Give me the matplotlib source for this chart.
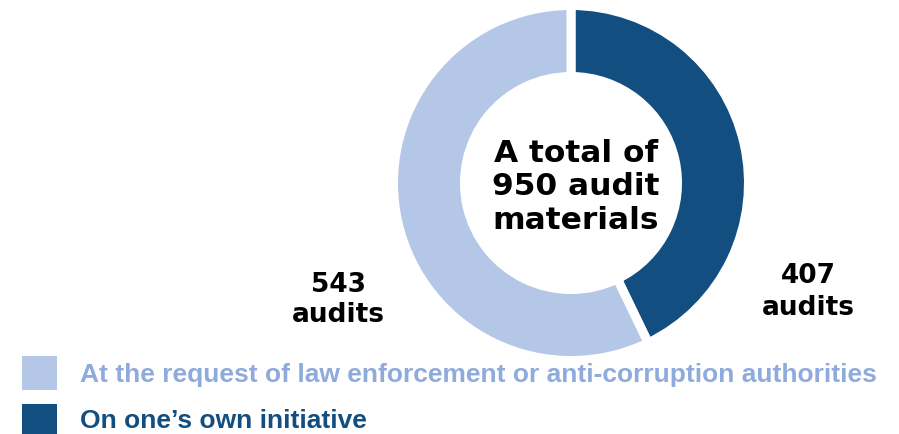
import matplotlib.pyplot as plt

# audit counts (dark slice first, drawn clockwise from the top)
categories = ['On one\u2019s own initiative',
              'At the request of law enforcement or anti-corruption authorities']
counts = [407, 543]
slice_labels = [['407', 'audits'], ['543', 'audits']]
centre_lines = ['A total of', '950 audit', 'materials']

dark = '#134e80'
light = '#b4c7e7'
light_text = '#8faadc'

W, H = 899, 435


def yy(y):  # image row -> data y
    return H - y


fig = plt.figure(figsize=(8.99, 4.35), dpi=100)
ax = fig.add_axes([0, 0, 1, 1])

ax.pie(counts, colors=[dark, light], startangle=90, counterclock=False,
       center=(571, yy(184)), radius=177.5,
       wedgeprops=dict(width=71, edgecolor='white', linewidth=6.5))
ax.set_xlim(0, W)
ax.set_ylim(0, H)
ax.set_aspect('equal')
ax.axis('off')

# centre text, one line at a time
for line, base in zip(centre_lines, [162, 195, 229]):
    ax.text(576, yy(base), line, ha='center', va='baseline', fontsize=22.5,
            fontweight='bold', family='DejaVu Sans')

# slice labels
label_pos = [(808, [283, 315]), (338, [292, 322])]
for lines, (x, bases) in zip(slice_labels, label_pos):
    for line, base in zip(lines, bases):
        ax.text(x, yy(base), line, ha='center', va='baseline', fontsize=19,
                fontweight='bold', family='DejaVu Sans')

# legend by hand
legend_rows = [(categories[1], light, light_text, 357, 382),
               (categories[0], dark, dark, 405, 428)]
for label, fc, tc, top, base in legend_rows:
    ax.add_patch(plt.Rectangle((22, yy(top + 34)), 35, 34, color=fc, lw=0))
    ax.text(80, yy(base), label, ha='left', va='baseline', fontsize=19,
            fontweight='bold', family='Liberation Sans', color=tc)

fig.savefig('out.png', dpi=100)
